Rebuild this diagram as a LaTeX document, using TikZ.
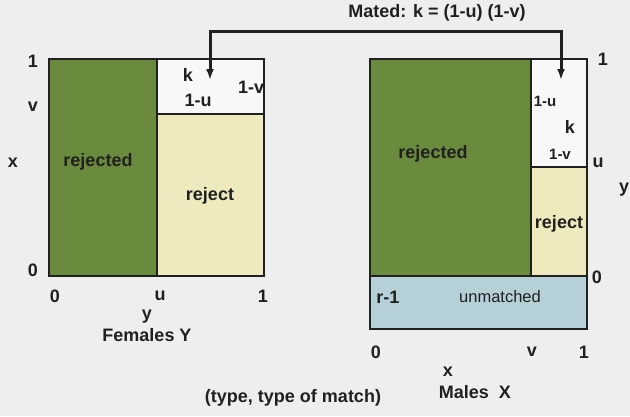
\documentclass[tikz,border=0pt]{standalone}
\usepackage{fontspec}
\setmainfont{Liberation Sans}
\usepackage{xcolor}
\usetikzlibrary{arrows.meta, positioning}
\definecolor{pagebg}{RGB}{238,238,238}
\definecolor{inkdark}{RGB}{32,32,32}
\definecolor{rejgreen}{RGB}{106,138,62}
\definecolor{rejbeige}{RGB}{238,234,190}
\definecolor{unmblue}{RGB}{182,208,216}
\definecolor{matewhite}{RGB}{248,248,248}
\tikzset{
    mating/.style={font=\bfseries\fontsize{18}{20}\selectfont, text=inkdark, inner sep=0pt},
    mating small/.style={mating, font=\bfseries\fontsize{15}{17}\selectfont},
    mating plain/.style={mating, font=\fontsize{16.5}{18}\selectfont},
    mating region/.style={draw=inkdark, line width=1.4pt, anchor=north west,
        inner sep=0pt, outer sep=0pt},
    mating frame/.style={draw=inkdark, line width=2.8pt},
    mating arrow/.style={{Latex[length=11pt,width=8pt]}-{Latex[length=11pt,width=8pt]},
        line width=3pt, draw=inkdark},
}

\begin{document}
\begin{tikzpicture}[x=1pt, y=-1pt]
  \useasboundingbox (0,0) rectangle (630,416);
  \fill[pagebg] (0,0) rectangle (630,416);

  % females
  \node[mating region, fill=rejgreen, minimum width=108pt, minimum height=217pt] (fRejected) at (49,59) {};
  \node[mating region, fill=matewhite, minimum width=107pt, minimum height=55pt] (fMated) at (157,59) {};
  \node[mating region, fill=rejbeige, minimum width=107pt, minimum height=162pt] (fReject) at (157,114) {};
  \node[mating] (fRejTxt) at (98,162) {rejected};
  \node[mating] (fRejectTxt) at (210,196) {reject};
  \node[mating] (fK) at (188,75) {k};
  \node[mating] (fOneU) at (198,100) {1-u};
  \node[mating, anchor=west] (fOneV) at (238,87) {1-v};
  \draw[mating frame] (fRejected.north west) rectangle (fReject.south east);

  % males
  \node[mating region, fill=rejgreen, minimum width=161pt, minimum height=217pt] (mRejected) at (370,59) {};
  \node[mating region, fill=matewhite, minimum width=56pt, minimum height=108pt] (mMated) at (531,59) {};
  \node[mating region, fill=rejbeige, minimum width=56pt, minimum height=109pt] (mReject) at (531,167) {};
  \node[mating region, fill=unmblue, minimum width=217pt, minimum height=53pt] (mUnmatched) at (370,276) {};
  \node[mating] (mRejTxt) at (433,154) {rejected};
  \node[mating] (mRejectTxt) at (559,224) {reject};
  \node[mating small] (mOneU) at (545,101) {1-u};
  \node[mating] (mK) at (570,127) {k};
  \node[mating small] (mOneV) at (560,154) {1-v};
  \node[mating] (mR) at (388,297) {r-1};
  \node[mating plain] (mUnmTxt) at (500,297) {unmatched};
  \draw[mating frame] (mRejected.north west) rectangle (mUnmatched.south east);

  % axis marks
  \node[mating] (fYOne) at (33,61) {1};
  \node[mating] (fYV) at (33,107) {v};
  \node[mating] (fXName) at (13,163) {x};
  \node[mating] (fYZero) at (33,270) {0};
  \node[mating] (fXZero) at (55,296) {0};
  \node[mating] (fXU) at (160,296) {u};
  \node[mating] (fXOne) at (263,296) {1};
  \node[mating] (fYName) at (147,317) {y};
  \node[mating] (females) at (147,335) {Females Y};

  \node[mating] (mYOne) at (603,59) {1};
  \node[mating] (mYU) at (598,163) {u};
  \node[mating, anchor=west] (mYName) at (619,190) {y};
  \node[mating] (mYZero) at (597,277) {0};
  \node[mating] (mXZero) at (376,352) {0};
  \node[mating] (mXV) at (532,352) {v};
  \node[mating] (mXOne) at (584,352) {1};
  \node[mating] (mXName) at (448,372) {x};
  \node[mating] (males) at (475,392) {Males\ \ X};

  \node[mating] (caption) at (293,398) {(type, type of match)};

  % mating connector
  \node[mating] (matedTxt) at (437,13) {Mated: k = (1-u) (1-v)};
  \coordinate (fTip) at (210,80);
  \coordinate (mTip) at (561,80);
  \coordinate (mateBar) at (385,31);
  \draw[mating arrow] (fTip) |- (mateBar) -| (mTip);
\end{tikzpicture}
\end{document}
